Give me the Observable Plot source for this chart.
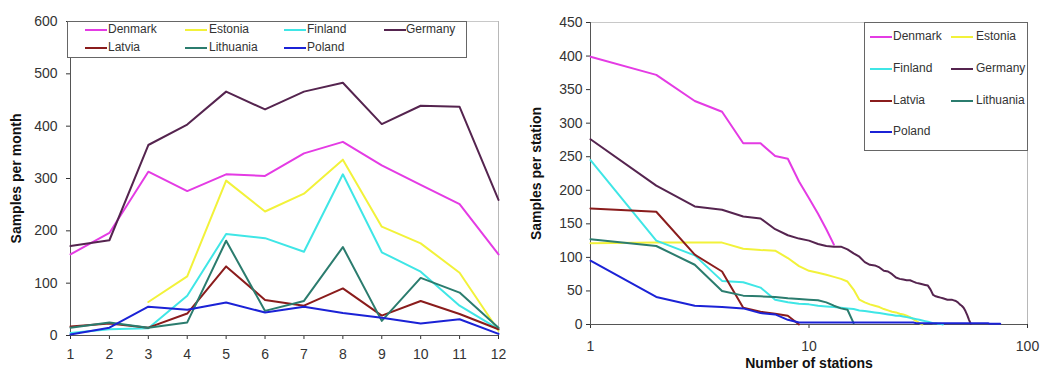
<!DOCTYPE html>
<html>
<head>
<meta charset="utf-8">
<script src="https://cdn.jsdelivr.net/npm/d3@7"></script>
<script src="https://cdn.jsdelivr.net/npm/@observablehq/plot@0.6"></script>
<style>
  html, body { margin: 0; padding: 0; background: #fff; }
  #wrap { position: relative; width: 1041px; height: 372px; overflow: hidden; font-family: 'Liberation Sans', Arial, sans-serif; }
  #left, #right { position: absolute; top: 0; }
  #left { left: 0; }
  #right { left: 520px; }
  g[aria-label$="axis label"] text { font-weight: bold; fill: #111; }
  .legend { position: absolute; border: 1px solid #666; background: #fff; box-sizing: border-box; }
  .item { position: absolute; font-size: 12px; color: #333; white-space: nowrap; line-height: 14px; }
  .sw { position: absolute; height: 2px; }
</style>
</head>
<body>
<div id="wrap">
  <div id="left"></div>
  <div id="right"></div>
</div>
<script>
// ---------- data ----------
const countries = ["Denmark", "Estonia", "Finland", "Germany", "Latvia", "Lithuania", "Poland"];
const colors = ["#e43be4", "#f2f23a", "#3fe6e6", "#55244f", "#8a1c1c", "#2b7c6e", "#1b22d6"];

const months = [1, 2, 3, 4, 5, 6, 7, 8, 9, 10, 11, 12];
const denmarkMonthly   = [155, 196, 313, 276, 308, 305, 348, 370, 325, 288, 251, 155];
const estoniaMonthly   = [null, null, 64, 113, 296, 237, 271, 336, 208, 176, 120, 9];
const finlandMonthly   = [5, 12, 14, 76, 194, 186, 160, 308, 159, 122, 57, 12];
const germanyMonthly   = [171, 182, 364, 403, 466, 432, 466, 483, 404, 439, 437, 259];
const latviaMonthly    = [17, 23, 15, 42, 132, 68, 57, 90, 38, 66, 41, 12];
const lithuaniaMonthly = [15, 25, 15, 25, 181, 47, 66, 169, 28, 110, 82, 15];
const polandMonthly    = [2, 15, 55, 49, 63, 44, 55, 43, 34, 23, 31, 3];

const denmarkRank   = [399, 372, 333, 317, 270, 270, 251, 247, 213, 188, 165, 142, 119];
const estoniaRank   = [121, 122, 122, 122, 113, 111, 110, 99, 87, 80, 77, 74, 71, 68, 64, 52, 37, 33, 30, 28, 26, 23, 21, 19, 18, 16, 15, 13, 11, 8, 5, 2, 0];
const finlandRank   = [245, 125, 103, 65, 63, 55, 37, 33, 31, 30, 28, 27, 26, 25, 24, 23, 21, 20, 19, 18, 17, 16, 15, 14, 13, 13, 12, 11, 10, 9, 8, 7, 6, 5, 4, 3, 2, 2, 1, 1, 0];
const germanyRank   = [276, 207, 176, 171, 161, 158, 142, 133, 128, 125, 120, 117, 116, 116, 112, 106, 101, 93, 89, 88, 85, 80, 79, 75, 70, 68, 67, 66, 66, 64, 62, 61, 60, 59, 58, 52, 44, 42, 41, 40, 39, 38, 37, 37, 37, 36, 35, 33, 30, 28, 25, 20, 14, 7, 1];
const latviaRank    = [173, 168, 104, 79, 25, 19, 16, 13, 0];
const lithuaniaRank = [127, 117, 89, 50, 43, 42, 41, 39, 38, 37, 36, 33, 28, 24, 22, 2];
const polandRank    = [95, 41, 28, 26, 24, 17, 15, 7, 3, 3, 3, 3, 3, 3, 3, 3, 3, 3, 3, 3, 3, 3, 3, 3, 3, 3, 3, 3, 3, 3, 2, 2, 2, 2, 2, 2, 2, 2, 2, 2, 2, 2, 2, 2, 2, 2, 2, 2, 2, 2, 2, 2, 2, 2, 2, 2, 2, 2, 2, 2, 2, 2, 2, 2, 2, 2, 1, 1, 1, 1, 1, 1, 1, 1, 1];

const leftYTicks = [0, 100, 200, 300, 400, 500, 600];
const rightYTicks = [0, 50, 100, 150, 200, 250, 300, 350, 400, 450];
const rightXTicks = [1, 10, 100];

// ---------- tables ----------
const monthlySeries = [denmarkMonthly, estoniaMonthly, finlandMonthly, germanyMonthly, latviaMonthly, lithuaniaMonthly, polandMonthly];
const rankSeries = [denmarkRank, estoniaRank, finlandRank, germanyRank, latviaRank, lithuaniaRank, polandRank];
const monthlyRows = [];
countries.forEach((c, i) => monthlySeries[i].forEach((v, j) => monthlyRows.push({country: c, month: months[j], value: v})));
const rankRows = [];
countries.forEach((c, i) => rankSeries[i].forEach((v, j) => rankRows.push({country: c, n: j + 1, value: v})));

const baseStyle = {fontFamily: "'Liberation Sans', Arial, sans-serif", fontSize: "14px", color: "#333", background: "transparent", overflow: "visible"};

const leftChart = Plot.plot({
  width: 520, height: 372,
  marginLeft: 70, marginRight: 22, marginTop: 21, marginBottom: 37,
  style: baseStyle,
  x: {domain: [1, 12]},
  y: {domain: [0, 600]},
  color: {domain: countries, range: colors},
  marks: [
    Plot.ruleY([600], {stroke: "#c8c8c8"}),
    Plot.ruleX([12], {stroke: "#b8b8b8"}),
    Plot.axisX({ticks: months, tickSize: 4, tickPadding: 10, tickFormat: d => String(d), label: null}),
    Plot.axisY({ticks: leftYTicks, tickSize: 4, tickPadding: 9, tickFormat: d => String(d), label: "Samples per month", labelAnchor: "center", labelArrow: "none", labelOffset: 59}),
    Plot.ruleX([1], {stroke: "#555"}),
    Plot.ruleY([0], {stroke: "#555"}),
    Plot.line(monthlyRows, {x: "month", y: "value", z: "country", stroke: "country", strokeWidth: 2})
  ]
});
document.getElementById("left").appendChild(leftChart);

const rightChart = Plot.plot({
  width: 521, height: 372,
  marginLeft: 70, marginRight: 14, marginTop: 22, marginBottom: 48,
  style: baseStyle,
  x: {type: "log", domain: [1, 100]},
  y: {domain: [0, 450]},
  color: {domain: countries, range: colors},
  marks: [
    Plot.ruleY([450], {stroke: "#c8c8c8"}),
    Plot.ruleX([100], {stroke: "#b8b8b8"}),
    Plot.axisX({ticks: rightXTicks, tickSize: 4, tickPadding: 13, tickFormat: d => String(d), label: "Number of stations", labelAnchor: "center", labelArrow: "none", labelOffset: 43}),
    Plot.axisY({ticks: rightYTicks, tickSize: 4, tickPadding: 4, tickFormat: d => String(d), label: "Samples per station", labelAnchor: "center", labelArrow: "none", labelOffset: 59}),
    Plot.ruleX([1], {stroke: "#555"}),
    Plot.ruleY([0], {stroke: "#555"}),
    Plot.line(rankRows, {x: "n", y: "value", z: "country", stroke: "country", strokeWidth: 2})
  ]
});
document.getElementById("right").appendChild(rightChart);

// ---------- legends ----------
function legend(box, positions) {
  const wrap = document.getElementById("wrap");
  const lg = document.createElement("div");
  lg.className = "legend";
  Object.assign(lg.style, {left: box.x + "px", top: box.y + "px", width: box.w + "px", height: box.h + "px"});
  wrap.appendChild(lg);
  countries.forEach((c, i) => {
    const p = positions[i];
    const sw = document.createElement("div");
    sw.className = "sw";
    Object.assign(sw.style, {left: (p.sx - box.x) + "px", top: (p.y - box.y - 1) + "px", width: p.sw + "px", background: colors[i]});
    lg.appendChild(sw);
    const t = document.createElement("div");
    t.className = "item";
    t.textContent = c;
    Object.assign(t.style, {left: (p.tx - box.x) + "px", top: (p.y - box.y - 8) + "px"});
    lg.appendChild(t);
  });
}
const lcols = [{sx: 84, tx: 107}, {sx: 184, tx: 208}, {sx: 283, tx: 306}, {sx: 383, tx: 405}];
const lrows = [29, 47];
legend({x: 67, y: 21, w: 400, h: 37},
  countries.map((c, i) => ({sx: lcols[i % 4].sx, sw: 22, tx: lcols[i % 4].tx, y: lrows[Math.floor(i / 4)]})));
const rcols = [{sx: 869, tx: 892}, {sx: 950, tx: 975}];
const rrows = [36, 68, 100, 131];
legend({x: 864, y: 22, w: 164, h: 129},
  countries.map((c, i) => ({sx: rcols[i % 2].sx, sw: 22, tx: rcols[i % 2].tx, y: rrows[Math.floor(i / 2)]})));
</script>
</body>
</html>
